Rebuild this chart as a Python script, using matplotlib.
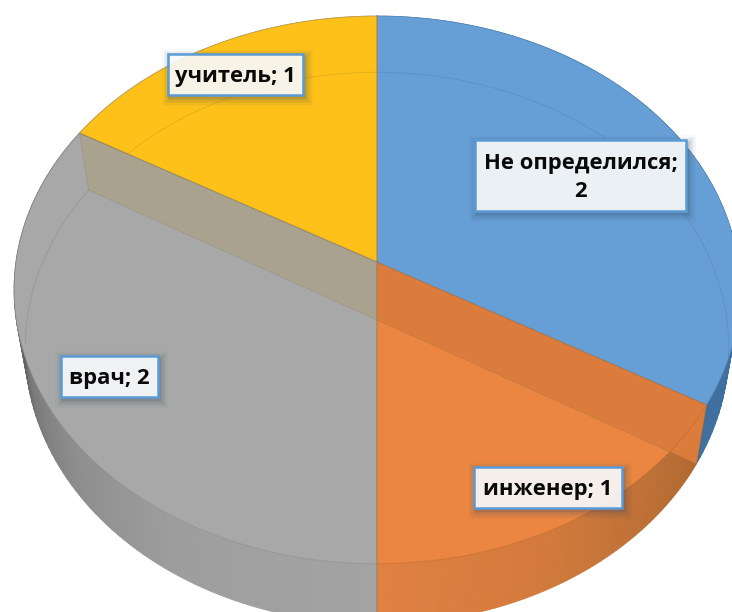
import numpy as np
import matplotlib
matplotlib.use("Agg")
import matplotlib.pyplot as plt
from matplotlib.patches import Polygon, Rectangle
from matplotlib.collections import PolyCollection
from matplotlib.colors import to_rgb

categories = ["Не определился", "инженер", "врач", "учитель"]
values = [2, 1, 2, 1]
label_texts = ["Не определился;\n2", "инженер; 1", "врач; 2", "учитель; 1"]
top_colors = ["#669FD6", "#EA8642", "#A8A8A8", "#FDC119"]
edge_colors = ["#5A8CBC", "#C46A2C", "#8E8E8E", "#C09A30"]
label_boxes = [(475, 140, 686, 211), (474, 467, 622, 508), (61, 356, 158, 397), (168, 54, 303, 95)]
wall_shades = [
    [(0, "#3F6F9E"), (120, "#3F6F9E")],
    [(120, "#B06830"), (135, "#BD7036"), (155, "#D27A3C"), (180, "#DF8142")],
    [(180, "#A3A3A3"), (210, "#9E9E9E"), (232, "#8E8E8E"), (248, "#7A7A7A"), (262, "#5E5E5E"), (272, "#4E4E4E"), (300, "#707070")],
    [(300, "#A0A0A0"), (360, "#A0A0A0")],
]

TOP = dict(cx=377, cy=262, A=361, B=271)
BOT = dict(cx=377, cy=320, A=350, B=273)
K = 0.102


def proj(theta, f):
    t = np.radians(np.asarray(theta, dtype=float))
    x, y = np.sin(t), -np.cos(t)
    d = 1 - K * y
    return f["cx"] + f["A"] * x / d, f["cy"] + f["B"] * y / d


def wedge(a0, a1, f):
    th = np.linspace(a0, a1, 200)
    xs, ys = proj(th, f)
    return np.vstack([[f["cx"], f["cy"]], np.column_stack([xs, ys])])


fig = plt.figure(figsize=(7.32, 6.12), dpi=100)
ax = fig.add_axes([0, 0, 1, 1])
ax.set_xlim(0, 732)
ax.set_ylim(612, 0)
ax.axis("off")

bounds = 360 * np.concatenate([[0], np.cumsum(values)]) / sum(values)

# outer wall
for i in range(len(values)):
    th = np.linspace(bounds[i], bounds[i + 1], 90)
    stops = wall_shades[i]
    sa = [s[0] for s in stops]
    sc = np.array([to_rgb(s[1]) for s in stops])
    quads, cols = [], []
    for a, b in zip(th[:-1], th[1:]):
        xa, ya = proj([a, b], TOP)
        xb, yb = proj([b, a], BOT)
        quads.append(list(zip(xa, ya)) + list(zip(xb, yb)))
        m = (a + b) / 2
        cols.append([np.interp(m, sa, sc[:, c]) for c in range(3)])
    ax.add_collection(PolyCollection(quads, facecolors=cols, edgecolors=cols, linewidths=0.6, zorder=1))

# top face
for i in range(len(values)):
    ax.add_patch(Polygon(wedge(bounds[i], bounds[i + 1], TOP), closed=True, fc=top_colors[i], ec="none", zorder=2))

# far rim of the bottom disc, seen through the top face
th = np.linspace(-95, 98, 300)
xs, ys = proj(th, BOT)
ax.plot(xs, ys, color="#333333", alpha=0.12, lw=0.7, zorder=3)

# inner walls on the two slanted dividers
band_colors = ["#DB7C3D", "#A8A28E"]
for b, c in zip([bounds[1], bounds[3]], band_colors):
    x0, y0 = proj(b, TOP)
    x1, y1 = proj(b, BOT)
    poly = [(TOP["cx"], TOP["cy"]), (x0, y0), (x1, y1), (BOT["cx"], BOT["cy"])]
    ax.add_patch(Polygon(poly, closed=True, fc=c, ec="none", zorder=4))
    ax.plot([TOP["cx"], x0], [TOP["cy"], y0], color="#7A6A50", alpha=0.55, lw=0.8, zorder=5)
    ax.plot([BOT["cx"], x1], [BOT["cy"], y1], color="#6A6050", alpha=0.15, lw=0.7, zorder=5)
    ax.plot([x0, x1], [y0, y1], color="#7A6A50", alpha=0.2, lw=0.7, zorder=5)

# rims
for i in range(len(values)):
    xs, ys = proj(np.linspace(bounds[i], bounds[i + 1], 200), TOP)
    ax.plot(xs, ys, color=edge_colors[i], lw=0.7, alpha=0.6, zorder=5)

# vertical divider
xv, yv = proj(0, TOP)
xe, ye = proj(180, BOT)
ax.plot([xv, xe], [yv, ye], color="#A07A50", lw=1.2, alpha=0.6, zorder=5)

# labels
for text, (x0, y0, x1, y1) in zip(label_texts, label_boxes):
    for grow, al in [(8, 0.03), (6.5, 0.04), (5, 0.05), (3.5, 0.07), (2, 0.09), (1, 0.1)]:
        ax.add_patch(Rectangle((x0 - grow + 2, y0 - grow + 3), x1 - x0 + 2 * grow, y1 - y0 + 2 * grow,
                               fc="#3A4A60", ec="none", alpha=al, zorder=6))
    ax.add_patch(Rectangle((x0, y0), x1 - x0, y1 - y0, fc="white", ec="none", alpha=0.89, zorder=7))
    ax.add_patch(Rectangle((x0, y0), x1 - x0, y1 - y0, fc="none", ec="#5B9BD5", lw=1.8, zorder=8))
    ax.text((x0 + x1) / 2, (y0 + y1) / 2 + 2, text, ha="center", va="center", fontsize=15.8, fontweight="bold",
            family="Open Sans", color="#0A0A0A", linespacing=1.38, zorder=9)

fig.savefig("out.png", dpi=100)
